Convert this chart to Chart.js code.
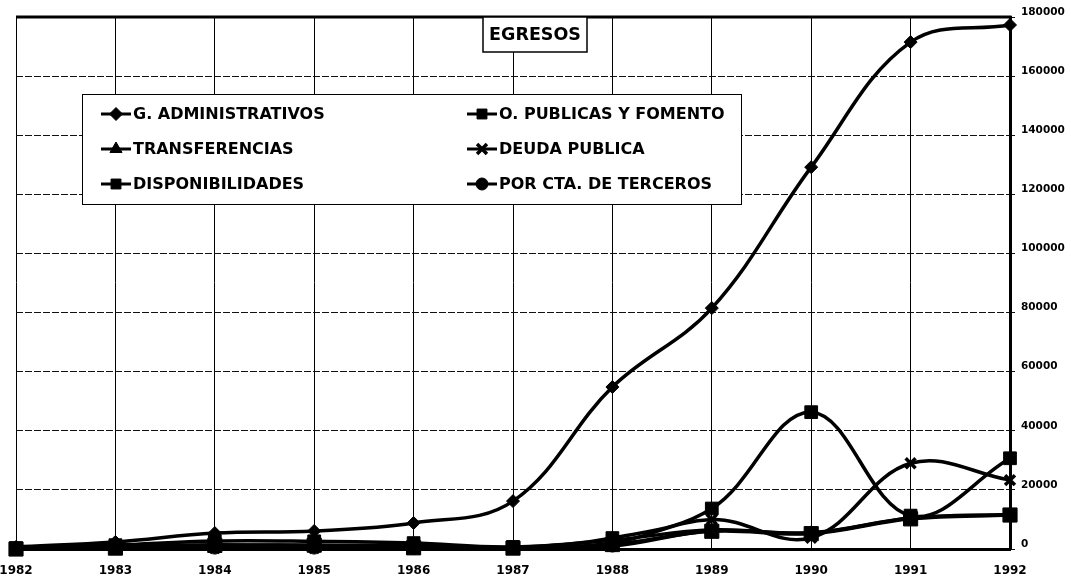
<!DOCTYPE html>
<html>
<head>
<meta charset="utf-8">
<script src="https://cdn.jsdelivr.net/npm/chart.js@4/dist/chart.umd.min.js"></script>
<style>
  html, body { margin: 0; padding: 0; background: #fff; }
  #wrap { position: relative; width: 1071px; height: 582px; }
</style>
</head>
<body>
<div id="wrap"><canvas id="c" width="1071" height="582"></canvas></div>
<script>
const chartTitle = 'EGRESOS';
const years = ['1982','1983','1984','1985','1986','1987','1988','1989','1990','1991','1992'];
const seriesNames = ['G. ADMINISTRATIVOS','O. PUBLICAS Y FOMENTO','TRANSFERENCIAS','DEUDA PUBLICA','DISPONIBILIDADES','POR CTA. DE TERCEROS'];
const gAdministrativos = [700, 2400, 5400, 6100, 8800, 16200, 54800, 81500, 129200, 171500, 177300];
const oPublicasFomento = [300, 1300, 2700, 2600, 2000, 700, 3700, 13700, 46300, 11300, 30700];
const transferencias   = [300, 1000, 1400, 1300, 1100, 600, 3000, 6500, 5500, 10500, 11700];
const deudaPublica     = [100, 400, 300, 300, 300, 300, 2000, 10000, 3800, 29000, 23300];
const disponibilidades = [0, 300, 1200, 1300, 400, 300, 1500, 6000, 5200, 10200, 11500];
const porCtaTerceros   = [0, 200, 300, 300, 200, 200, 1000, 6200, 5400, 10400, 11600];
const yTicks = [0, 20000, 40000, 60000, 80000, 100000, 120000, 140000, 160000, 180000];

const FONT = "'DejaVu Sans', 'Liberation Sans', Arial, sans-serif";
const styles = [
  {pointStyle: 'rectRot', radius: 6.5, bw: 1},
  {pointStyle: 'rect', radius: 9, bw: 1},
  {pointStyle: 'triangle', radius: 7, bw: 1},
  {pointStyle: 'crossRot', radius: 7, bw: 3.5},
  {pointStyle: 'rect', radius: 10, bw: 1},
  {pointStyle: 'circle', radius: 6, bw: 1}
];
const values = [gAdministrativos, oPublicasFomento, transferencias, deudaPublica, disponibilidades, porCtaTerceros];

const datasets = values.map((v, i) => ({
  label: seriesNames[i],
  data: v,
  borderColor: '#000',
  backgroundColor: '#000',
  borderWidth: 3.5,
  tension: 0.38,
  pointStyle: styles[i].pointStyle,
  pointRadius: styles[i].radius,
  pointBackgroundColor: '#000',
  pointBorderColor: '#000',
  pointBorderWidth: styles[i].bw,
  clip: false
}));

const overlayPlugin = {
  id: 'overlay',
  afterDraw(chart) {
    const ctx = chart.ctx;
    const a = chart.chartArea;
    ctx.save();
    // top border
    ctx.strokeStyle = '#000';
    ctx.lineWidth = 3;
    ctx.beginPath();
    ctx.moveTo(a.left, a.top);
    ctx.lineTo(a.right + 1.5, a.top);
    ctx.stroke();

    // title box
    const tx = 483, ty = 17, tw = 104, th = 35;
    ctx.fillStyle = '#fff';
    ctx.fillRect(tx, ty, tw, th);
    ctx.lineWidth = 1.5;
    ctx.strokeStyle = '#000';
    ctx.strokeRect(tx, ty, tw, th);
    ctx.fillStyle = '#000';
    ctx.font = 'bold 17.5px ' + FONT;
    ctx.textAlign = 'center';
    ctx.textBaseline = 'middle';
    ctx.fillText(chartTitle, tx + tw / 2, ty + th / 2 + 1);

    // legend box
    const lx = 82, ly = 94, lw = 659, lh = 110;
    ctx.fillStyle = '#fff';
    ctx.fillRect(lx, ly, lw, lh);
    ctx.lineWidth = 1;
    ctx.strokeStyle = '#000';
    ctx.strokeRect(lx + 0.5, ly + 0.5, lw, lh);
    const cols = [101, 467];
    const rows = [114, 149, 184];
    ctx.textAlign = 'left';
    chart.data.datasets.forEach((ds, i) => {
      const x = cols[i % 2], y = rows[Math.floor(i / 2)];
      ctx.strokeStyle = '#000';
      ctx.fillStyle = '#000';
      ctx.lineWidth = 3;
      ctx.beginPath();
      ctx.moveTo(x, y);
      ctx.lineTo(x + 30, y);
      ctx.stroke();
      ctx.lineWidth = ds.pointBorderWidth;
      Chart.helpers.drawPoint(ctx, {
        pointStyle: ds.pointStyle,
        radius: Math.min(ds.pointRadius, 7),
        borderWidth: ds.pointBorderWidth,
        rotation: 0
      }, x + 15, y);
      ctx.fillStyle = '#000';
      ctx.font = 'bold 16px ' + FONT;
      ctx.fillText(ds.label, x + 32, y + 1);
    });
    ctx.restore();
  }
};

new Chart(document.getElementById('c'), {
  type: 'line',
  data: { labels: years, datasets },
  options: {
    responsive: false,
    animation: false,
    layout: { padding: { top: 17, left: 0, right: 0, bottom: 0 } },
    plugins: { legend: { display: false }, title: { display: false }, tooltip: { enabled: false } },
    scales: {
      x: {
        offset: false,
        grid: { color: '#000', lineWidth: 1, drawTicks: false },
        border: { display: true, color: '#000', width: 3 },
        ticks: { color: '#000', font: { family: FONT, size: 12, weight: 'bold' }, padding: 15, maxRotation: 0, autoSkip: false },
        afterFit(scale) { scale.height = 33; scale.paddingLeft = 16; scale.paddingRight = 0; }
      },
      y: {
        position: 'right',
        min: 0,
        max: 180000,
        afterBuildTicks(scale) { scale.ticks = yTicks.map(v => ({ value: v })); },
        grid: { color: '#111', lineWidth: 1, tickLength: 5 },
        border: { display: true, color: '#000', width: 3, dash: [7, 2] },
        ticks: {
          color: '#000',
          font: { family: FONT, size: 10.5, weight: 'bold' },
          padding: 6,
          labelOffset: -5,
          callback: (v) => String(v)
        },
        afterFit(scale) { scale.width = 61; }
      }
    }
  },
  plugins: [overlayPlugin]
});
</script>
</body>
</html>
